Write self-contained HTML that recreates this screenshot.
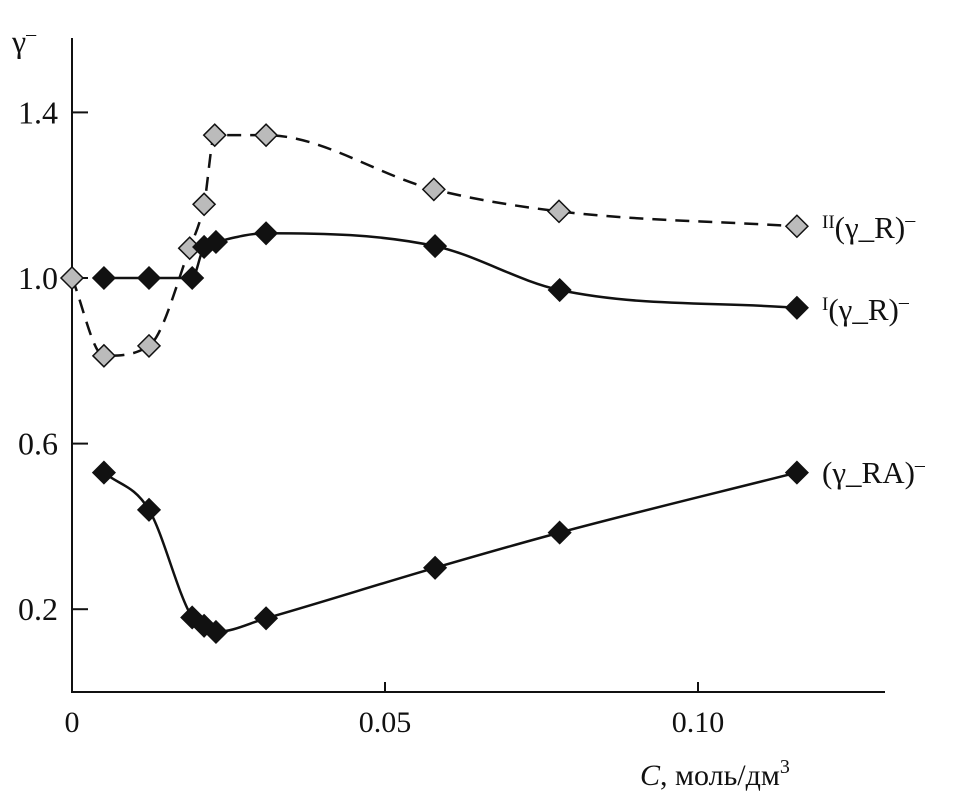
<!DOCTYPE html>
<html><head><meta charset="utf-8"><style>
body{margin:0;background:#fff}
svg text{font-family:"Liberation Serif",serif;fill:#111}
</style></head><body>
<svg id="chart" width="965" height="799" viewBox="0 0 965 799" xmlns="http://www.w3.org/2000/svg">
<g id="axes"></g>
<g id="series"></g>
<text x="12" y="52" font-size="32">γ<tspan font-size="20" dy="-12">–</tspan></text>
<text x="640" y="785" font-size="30"><tspan font-style="italic">C</tspan>, моль/дм<tspan font-size="20" dy="-12">3</tspan></text>
<text x="822" y="238" font-size="31"><tspan font-size="19" dy="-10">II</tspan><tspan dy="10">(γ_R)</tspan><tspan font-size="20" dy="-12">–</tspan></text>
<text x="822" y="320" font-size="31"><tspan font-size="19" dy="-10">I</tspan><tspan dy="10">(γ_R)</tspan><tspan font-size="20" dy="-12">–</tspan></text>
<text x="822" y="483" font-size="31">(γ_RA)<tspan font-size="20" dy="-12">–</tspan></text>
</svg>
<script>
const xTicks=[0,0.05,0.10];
const xTickLabels=["0","0.05","0.10"];
const yTicks=[0.2,0.6,1.0,1.4];
const yTickLabels=["0.2","0.6","1.0","1.4"];
const cII=[0,0.0051,0.0123,0.0188,0.0211,0.0228,0.031,0.0578,0.0778,0.1158];
const vII=[1.0,0.812,0.836,1.072,1.178,1.345,1.345,1.214,1.161,1.125];
const cI=[0.0051,0.0123,0.0192,0.0211,0.023,0.031,0.058,0.0779,0.1158];
const vI=[1.0,1.0,1.0,1.075,1.087,1.108,1.077,0.971,0.928];
const cRA=[0.0051,0.0123,0.0192,0.0211,0.023,0.031,0.058,0.0779,0.1158];
const vRA=[0.53,0.44,0.18,0.16,0.145,0.178,0.30,0.385,0.53];

const NS="http://www.w3.org/2000/svg";
const X=c=>72+c*6260;
const Y=v=>278-(v-1)*414;
function mk(tag,parent,attrs){const e=document.createElementNS(NS,tag);for(const k in attrs)e.setAttribute(k,attrs[k]);parent.appendChild(e);return e;}
const axes=document.getElementById('axes'),ser=document.getElementById('series');
let a=mk('line',axes,{x1:72,y1:38,x2:72,y2:692,stroke:'#111','stroke-width':2});


a=mk('line',axes,{x1:71,y1:692,x2:885,y2:692,stroke:'#111','stroke-width':2});


xTicks.forEach((t,i)=>{
 const l=mk('line',axes,{x1:X(t),y1:692,x2:X(t),y2:682,stroke:'#111','stroke-width':2});
 
 
 const tx=mk('text',axes,{x:X(t),y:732,'font-size':30,'text-anchor':'middle'});tx.textContent=xTickLabels[i];
 
 
});
yTicks.forEach((t,i)=>{
 const l=mk('line',axes,{x1:72,y1:Y(t),x2:88,y2:Y(t),stroke:'#111','stroke-width':2});
 
 
 const tx=mk('text',axes,{x:58,y:Y(t)+11,'font-size':32,'text-anchor':'end'});tx.textContent=yTickLabels[i];
 
 
});
function monotone(cs,vs){
 const p=cs.map((c,i)=>[X(c),Y(vs[i])]);const n=p.length;
 const d=[],m=[];
 for(let i=0;i<n-1;i++)d.push((p[i+1][1]-p[i][1])/(p[i+1][0]-p[i][0]));
 m[0]=d[0];m[n-1]=d[n-2];
 for(let i=1;i<n-1;i++){m[i]=(d[i-1]*d[i]<=0)?0:(d[i-1]+d[i])/2;}
 for(let i=0;i<n-1;i++){if(d[i]===0){m[i]=0;m[i+1]=0;continue;}const a=m[i]/d[i],b=m[i+1]/d[i],s=a*a+b*b;if(s>9){const t=3/Math.sqrt(s);m[i]=t*a*d[i];m[i+1]=t*b*d[i];}}
 let s=`M${p[0][0]},${p[0][1]}`;
 for(let i=0;i<n-1;i++){const h=(p[i+1][0]-p[i][0])/3;
  s+=` C${p[i][0]+h},${p[i][1]+m[i]*h} ${p[i+1][0]-h},${p[i+1][1]-m[i+1]*h} ${p[i+1][0]},${p[i+1][1]}`;}
 return s;
}
function series(cs,vs,name,fill,dash){
 const g=mk('g',ser,{});
 
 
 const pa=mk('path',g,{d:monotone(cs,vs),fill:'none',stroke:'#111','stroke-width':2.5,'stroke-dasharray':dash||'none'});
 
 
 cs.forEach((c,i)=>{
  const x=X(c),y=Y(vs[i]),r=11;
  const m=mk('polygon',g,{points:`${x},${y-r} ${x+r},${y} ${x},${y+r} ${x-r},${y}`,fill:fill,stroke:'#111','stroke-width':1.5});
  
  
 });
}
series(cII,vII,'series-II','#bbb','14 9');
series(cI,vI,'series-I','#111');
series(cRA,vRA,'series-RA','#111');
</script>
</body></html>
